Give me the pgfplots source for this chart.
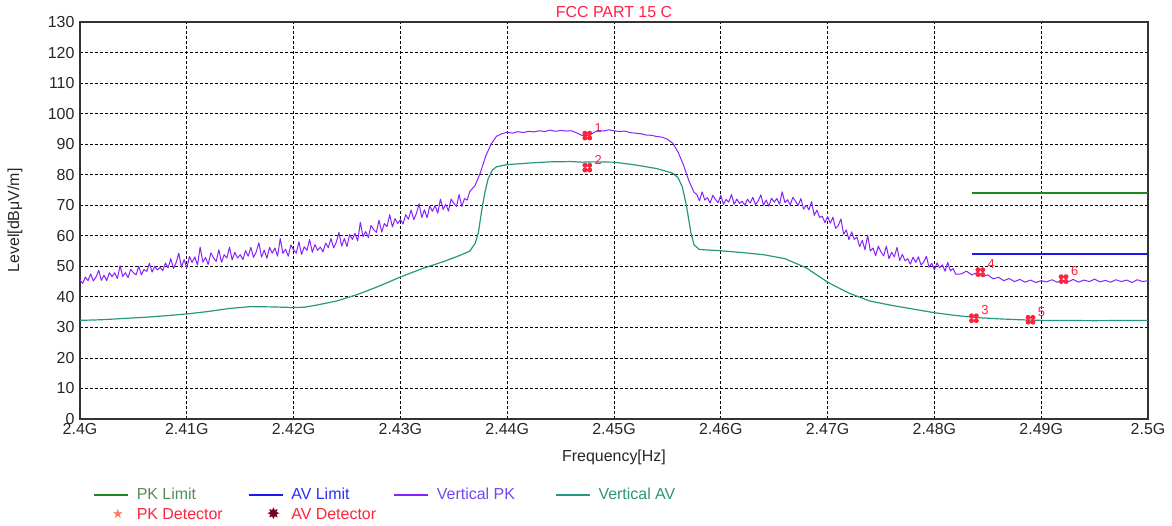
\documentclass[border=0pt]{standalone}
\usepackage{pgfplots}
\pgfplotsset{compat=1.18}
\usepackage{pgfplotstable}
\usetikzlibrary{plotmarks}
\usepackage{fontspec}
\setmainfont{Liberation Sans}
\newfontfamily\dejavu{DejaVu Sans}
\definecolor{pkcol}{RGB}{135,35,250}
\definecolor{avcol}{RGB}{40,150,128}
\definecolor{pklim}{RGB}{30,135,30}
\definecolor{avlim}{RGB}{25,25,240}
\definecolor{mkred}{RGB}{255,35,60}
\definecolor{titred}{RGB}{255,30,70}
\definecolor{pklimtext}{RGB}{85,140,85}
\definecolor{avlimtext}{RGB}{45,45,250}
\definecolor{pktext}{RGB}{115,70,245}
\definecolor{avtext}{RGB}{45,150,125}
\definecolor{pkdet}{RGB}{255,120,90}
\definecolor{avdet}{RGB}{120,0,30}
\pgfdeclareplotmark{clover}{%
  \pgfpathcircle{\pgfpoint{2.4bp}{2.4bp}}{2.5bp}%
  \pgfpathcircle{\pgfpoint{-2.4bp}{2.4bp}}{2.5bp}%
  \pgfpathcircle{\pgfpoint{2.4bp}{-2.4bp}}{2.5bp}%
  \pgfpathcircle{\pgfpoint{-2.4bp}{-2.4bp}}{2.5bp}%
  \pgfusepathqfill}

\pgfplotstableread{
x y
2400.00 45.5
2400.25 44.4
2400.50 46.5
2400.75 45.3
2401.00 47.5
2401.25 45.2
2401.50 46.5
2401.75 48.7
2402.00 45.4
2402.25 47.1
2402.50 45.3
2402.75 47.9
2403.00 46.6
2403.25 47.9
2403.50 46.0
2403.75 50.2
2404.00 46.7
2404.25 47.9
2404.50 46.3
2404.75 49.0
2405.00 47.9
2405.25 47.2
2405.50 50.0
2405.75 47.2
2406.00 49.0
2406.25 48.3
2406.50 51.0
2406.75 48.1
2407.00 50.0
2407.25 48.8
2407.50 49.7
2407.75 48.6
2408.00 51.1
2408.25 49.5
2408.50 52.5
2408.75 49.3
2409.00 51.2
2409.25 54.3
2409.50 49.7
2409.75 52.2
2410.00 49.5
2410.25 53.2
2410.50 51.3
2410.75 53.1
2411.00 50.4
2411.25 56.3
2411.50 51.4
2411.75 52.9
2412.00 50.6
2412.25 54.4
2412.50 52.8
2412.75 51.6
2413.00 55.4
2413.25 51.3
2413.50 53.8
2413.75 52.7
2414.00 56.3
2414.25 52.1
2414.50 54.6
2414.75 52.7
2415.00 53.8
2415.25 52.2
2415.50 55.1
2415.75 53.3
2416.00 56.2
2416.25 52.9
2416.50 54.7
2416.75 57.7
2417.00 53.0
2417.25 55.3
2417.50 52.6
2417.75 56.2
2418.00 54.3
2418.25 56.0
2418.50 53.3
2418.75 59.1
2419.00 54.2
2419.25 55.6
2419.50 53.3
2419.75 57.0
2420.00 55.4
2420.25 54.3
2420.50 58.0
2420.75 53.9
2421.00 56.4
2421.25 55.2
2421.50 58.8
2421.75 54.6
2422.00 57.1
2422.25 55.2
2422.50 56.3
2422.75 54.7
2423.00 57.6
2423.25 56.1
2423.50 59.1
2423.75 56.0
2424.00 57.9
2424.25 61.1
2424.50 56.6
2424.75 59.1
2425.00 56.5
2425.25 60.4
2425.50 58.8
2425.75 60.8
2426.00 58.3
2426.25 64.4
2426.50 59.7
2426.75 61.4
2427.00 59.4
2427.25 63.4
2427.50 62.0
2427.75 61.1
2428.00 65.1
2428.25 61.2
2428.50 64.0
2428.75 63.0
2429.00 66.9
2429.25 62.9
2429.50 65.6
2429.75 64.0
2430.00 65.3
2430.25 63.9
2430.50 66.9
2430.75 65.4
2431.00 68.4
2431.25 65.3
2431.50 67.3
2431.75 70.5
2432.00 66.0
2432.25 68.5
2432.50 65.9
2432.75 69.7
2433.00 68.0
2433.25 69.9
2433.50 67.4
2433.75 72.0
2434.00 68.6
2434.25 70.3
2434.50 68.1
2434.75 72.0
2435.00 70.6
2435.25 69.6
2435.50 73.5
2435.75 69.6
2436.00 72.2
2436.25 71.7
2436.50 74.5
2437.00 76.5
2437.50 80.8
2438.00 86.2
2438.50 90.1
2439.00 92.6
2439.50 93.4
2440.00 93.9
2440.50 93.6
2441.00 94.1
2441.50 93.8
2442.00 94.2
2442.50 94.0
2443.00 94.4
2443.50 94.1
2444.00 94.6
2444.50 94.2
2445.00 94.5
2445.50 94.3
2446.00 94.4
2446.50 93.7
2447.00 92.9
2447.50 92.8
2448.00 93.6
2448.50 94.5
2449.00 94.3
2449.50 94.7
2450.00 94.4
2450.50 94.1
2451.00 94.3
2451.50 93.8
2452.00 93.6
2452.50 93.4
2453.00 93.0
2453.50 92.9
2454.00 92.5
2454.50 92.3
2455.00 91.6
2455.50 90.3
2456.00 87.4
2456.50 83.2
2457.00 78.1
2457.50 74.2
2457.75 73.6
2458.00 71.4
2458.25 74.4
2458.50 71.7
2458.75 72.5
2459.00 70.7
2459.25 73.2
2459.50 71.9
2459.75 70.8
2460.00 73.3
2460.25 70.3
2460.50 71.9
2460.75 71.0
2461.00 73.5
2461.25 70.3
2461.50 72.0
2461.75 70.6
2462.00 71.3
2462.25 70.0
2462.50 72.0
2462.75 70.7
2463.00 72.6
2463.25 70.2
2463.50 71.4
2463.75 73.4
2464.00 70.0
2464.25 71.7
2464.50 69.7
2464.75 72.3
2465.00 71.0
2465.25 72.2
2465.50 70.3
2465.75 74.4
2466.00 70.9
2466.25 71.8
2466.50 70.1
2466.75 72.6
2467.00 71.3
2467.25 70.0
2467.50 72.2
2467.75 68.7
2468.00 70.0
2468.25 68.5
2468.50 71.2
2468.75 66.7
2469.00 68.4
2469.25 66.0
2469.50 66.4
2469.75 64.3
2470.00 66.3
2470.25 64.1
2470.50 66.1
2470.75 62.4
2471.00 63.4
2471.25 65.5
2471.50 60.5
2471.75 61.9
2472.00 58.7
2472.25 61.3
2472.50 58.8
2472.75 59.6
2473.00 56.4
2473.25 58.5
2473.50 55.4
2473.75 60.2
2474.00 55.0
2474.25 56.0
2474.50 53.5
2474.75 56.6
2475.00 54.7
2475.25 53.4
2475.50 56.6
2475.75 52.5
2476.00 54.6
2476.25 53.1
2476.50 56.2
2476.75 51.9
2477.00 53.9
2477.25 51.8
2477.50 52.5
2477.75 50.7
2478.00 53.0
2478.25 51.3
2478.50 53.1
2478.75 50.4
2479.00 51.4
2479.25 53.3
2479.50 49.7
2479.75 51.0
2480.00 48.8
2480.25 51.1
2480.50 49.5
2480.75 50.5
2481.00 48.4
2481.25 51.3
2481.50 48.5
2481.75 49.3
2482.00 47.4
2482.50 47.5
2483.00 48.4
2483.50 47.2
2484.00 47.9
2484.50 46.6
2485.00 47.2
2485.50 45.9
2486.00 46.4
2486.50 45.3
2487.00 46.0
2487.50 45.0
2488.00 45.7
2488.50 44.8
2489.00 45.5
2489.50 44.7
2490.00 45.3
2490.50 44.9
2491.00 45.6
2491.50 44.8
2492.00 45.4
2492.50 44.9
2493.00 45.7
2493.50 44.8
2494.00 45.5
2494.50 45.0
2495.00 45.8
2495.50 44.9
2496.00 45.4
2496.50 44.8
2497.00 45.6
2497.50 45.0
2498.00 45.5
2498.50 44.7
2499.00 45.6
2499.50 45.0
2500.00 45.3
}\pkdata

\pgfplotstableread{
x y
2400 32.3
2402 32.5
2404 32.9
2406 33.3
2408 33.8
2410 34.4
2412 35.2
2414 36.2
2416 36.8
2418 36.7
2420 36.5
2421 36.6
2422 37.2
2424 38.6
2426 40.8
2428 43.5
2430 46.5
2432 49.2
2434 51.5
2435 52.8
2436 54.2
2436.5 55.0
2437 57.5
2437.3 61.0
2437.6 68.0
2437.9 74.0
2438.2 78.5
2438.6 81.5
2439 82.6
2440 83.3
2442 83.8
2444 84.2
2446 84.3
2447 84.1
2448 84.2
2450 84.1
2452 83.2
2454 82.0
2455.5 80.5
2456 79.0
2456.4 76.0
2456.8 69.5
2457.2 61.0
2457.5 57.0
2458 55.5
2460 55.1
2462 54.5
2464 53.8
2466 52.5
2468 49.5
2470 44.8
2472 41.2
2474 38.6
2476 37.2
2478 36.0
2480 34.8
2482 33.9
2484 33.2
2486 32.8
2488 32.5
2490 32.3
2495 32.2
2500 32.3
}\avdata

\pgfplotstableread{
x y lab
2447.5 92.8 1
2447.5 82.3 2
2483.7 33.0 3
2484.3 48.1 4
2489.0 32.5 5
2492.1 45.8 6
}\markdata

\begin{document}
\begin{tikzpicture}
\path[use as bounding box] (-80bp,-107bp) rectangle (1092bp,419bp);
\begin{axis}[
  scale only axis, width=1068bp, height=397bp,
  at={(0,0)}, anchor=south west,
  xmin=2400, xmax=2500, ymin=0, ymax=130,
  xtick={2400,2410,...,2500},
  xticklabels={2.4G,2.41G,2.42G,2.43G,2.44G,2.45G,2.46G,2.47G,2.48G,2.49G,2.5G},
  ytick={0,10,...,130},
  grid=major,
  major grid style={black, dash pattern=on 3bp off 2bp, line width=0.8bp},
  major tick length=0pt,
  axis line style={black!80, line width=1.1bp},
  tick label style={font=\fontsize{16}{18}\selectfont, text=black!85},
  /pgf/number format/assume math mode=true,
  yticklabel style={xshift=-2bp},
  xticklabel style={yshift=-1bp},
  title={FCC PART 15 C},
  title style={at={(axis description cs:0.5,1)}, anchor=base, yshift=-1bp, text=titred, font=\fontsize{16}{18}\selectfont},
  xlabel={Frequency[Hz]},
  xlabel style={at={(axis description cs:0.5,0)}, anchor=base, yshift=-42bp, font=\fontsize{16}{18}\selectfont, text=black!85},
  ylabel={Level[dBμV/m]},
  ylabel style={at={(axis description cs:-0.0609,0.5)}, anchor=center, font=\fontsize{16}{18}\selectfont, text=black!85},
  legend columns=4,
  legend cell align=left,
  legend style={at={(axis description cs:0,0)}, anchor=north west, xshift=13bp, yshift=-67bp,
    draw=none, fill=none, inner sep=0pt, row sep=3bp, column sep=0pt,
    font=\fontsize{16}{18}\selectfont},
  legend image code/.code={\draw[#1, line width=1.6bp] (0bp,0bp) -- (34bp,0bp);},
]
\addplot[pklim, line width=1.8bp] coordinates {(2483.5,74) (2500,74)};
\addlegendentry{\hspace*{6bp}\textcolor{pklimtext}{\makebox[109bp][l]{PK Limit}}}
\addplot[avlim, line width=1.8bp] coordinates {(2483.5,54) (2500,54)};
\addlegendentry{\hspace*{6bp}\textcolor{avlimtext}{\makebox[100bp][l]{AV Limit}}}
\addplot[pkcol, line width=1.0bp, line join=round] table[x=x,y=y] {\pkdata};
\addlegendentry{\hspace*{6bp}\textcolor{pktext}{\makebox[116bp][l]{Vertical PK}}}
\addplot[avcol, line width=1.2bp] table[x=x,y=y] {\avdata};
\addlegendentry{\hspace*{6bp}\textcolor{avtext}{Vertical AV}}
\addlegendimage{legend image code/.code={\node[inner sep=0pt, text=pkdet, font=\dejavu\fontsize{13}{13}\selectfont] at (18bp,0bp) {★};}}
\addlegendentry{\hspace*{6bp}\textcolor{mkred}{\makebox[109bp][l]{PK Detector}}}
\addlegendimage{legend image code/.code={\node[inner sep=0pt, text=avdet, font=\dejavu\fontsize{16}{16}\selectfont] at (18bp,0bp) {✸};}}
\addlegendentry{\hspace*{6bp}\textcolor{mkred}{\makebox[100bp][l]{AV Detector}}}
\addplot[forget plot, only marks, mark=clover, mkred, mark options={fill=mkred, draw=none},
  nodes near coords, point meta=explicit symbolic,
  nodes near coords style={anchor=center, xshift=11bp, yshift=8bp, text=mkred, font=\fontsize{13}{13}\selectfont, inner sep=0pt}]
  table[x=x, y=y, meta=lab] {\markdata};
\end{axis}
\end{tikzpicture}
\end{document}
